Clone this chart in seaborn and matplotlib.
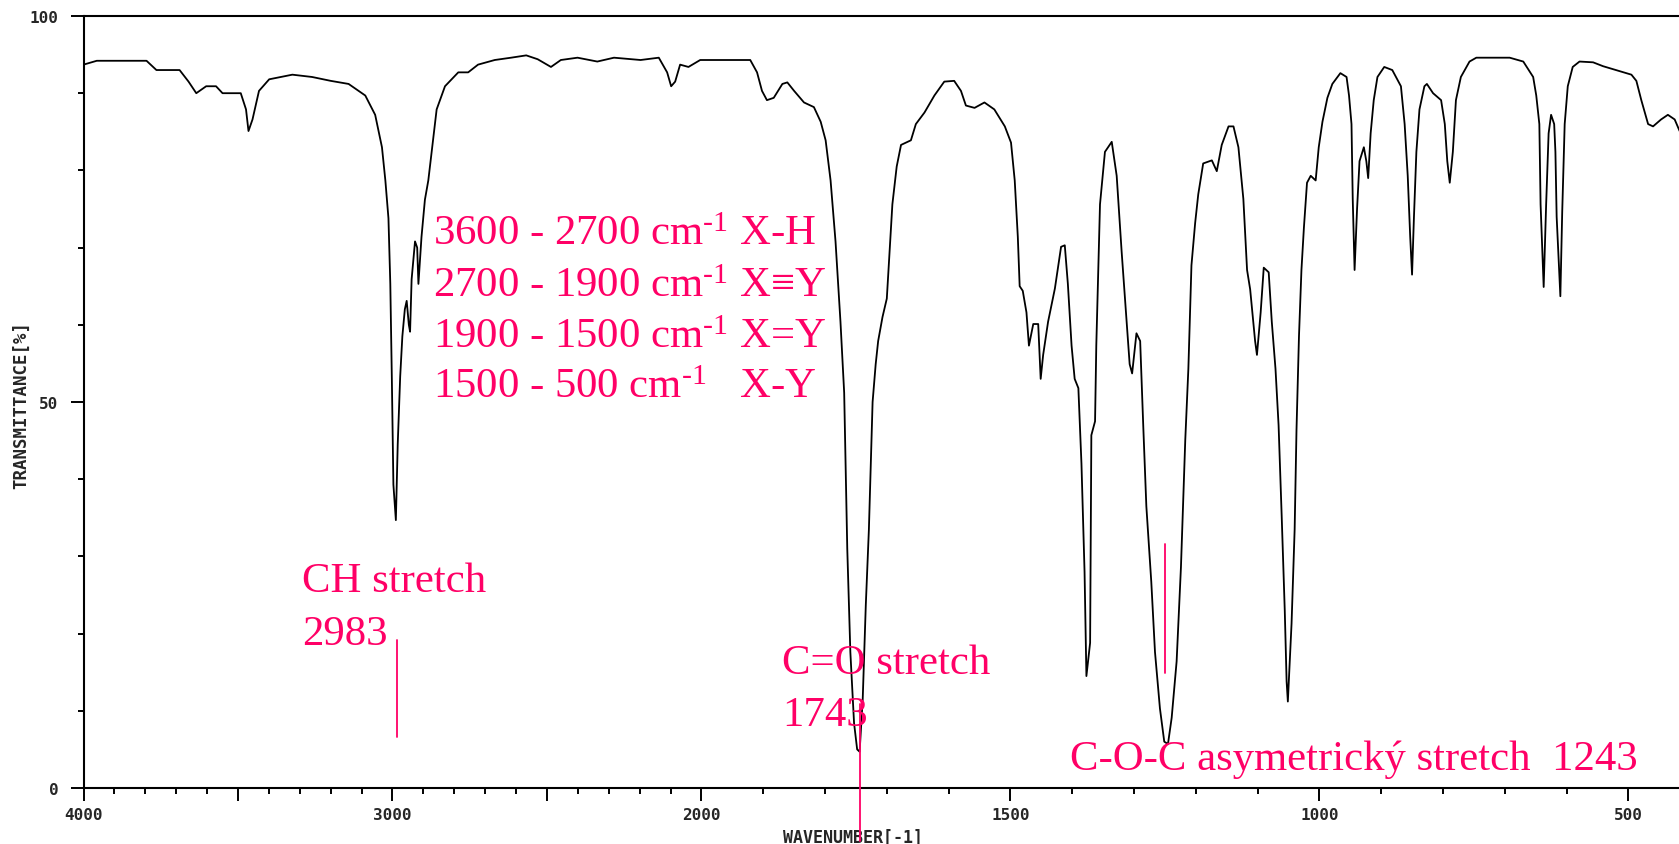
import numpy as np
import matplotlib
matplotlib.use("Agg")
import matplotlib.pyplot as plt
import seaborn as sns

# ---- data (ethyl acetate) ----
wavenumber = [
    4000, 3957, 3900, 3796, 3764, 3689, 3660, 3635, 3603, 3571, 3550, 3491, 3474, 3466, 3453,
    3432, 3399, 3324, 3260, 3200, 3142, 3088, 3056, 3034, 3023, 3013, 3007, 3002, 2997, 2989,
    2983, 2975, 2968, 2960, 2954, 2947, 2943, 2938, 2927, 2920, 2916, 2910, 2906, 2895, 2884,
    2873, 2857, 2830, 2787, 2755, 2723, 2669, 2616, 2567, 2530, 2487, 2455, 2401, 2337, 2283,
    2197, 2138, 2111, 2098, 2085, 2069, 2042, 2004, 1975, 1921, 1910, 1902, 1894, 1883, 1869,
    1861, 1850, 1834, 1818, 1807, 1799, 1791, 1783, 1775, 1769, 1764, 1759, 1753, 1748, 1744,
    1739, 1734, 1729, 1726, 1723, 1718, 1714, 1707, 1700, 1694, 1691, 1684, 1677, 1661, 1653,
    1639, 1623, 1607, 1591, 1580, 1572, 1558, 1542, 1526, 1509, 1499, 1493, 1488, 1485, 1480,
    1474, 1470, 1463, 1455, 1451, 1447, 1439, 1428, 1418, 1412, 1407, 1401, 1396, 1390, 1385,
    1380, 1377, 1371, 1369, 1363, 1361, 1355, 1347, 1336, 1328, 1320, 1312, 1307, 1303, 1296,
    1290, 1285, 1280, 1272, 1266, 1258, 1251, 1245, 1239, 1231, 1224, 1217, 1212, 1207, 1201,
    1196, 1188, 1174, 1166, 1158, 1147, 1139, 1131, 1123, 1117, 1112, 1104, 1101, 1095, 1090,
    1082, 1077, 1071, 1066, 1061, 1056, 1053, 1051, 1045, 1040, 1037, 1033, 1029, 1025, 1020,
    1014, 1006, 1001, 995, 987, 979, 966, 956, 952, 948, 946, 943, 939, 935, 928,
    924, 921, 917, 912, 906, 895, 882, 868, 862, 857, 853, 850, 847, 843, 838,
    830, 826, 816, 803, 797, 793, 789, 784, 779, 771, 757, 746, 692, 670, 654,
    649, 644, 642, 637, 633, 629, 625, 620, 618, 616, 610, 607, 603, 598, 590,
    579, 557, 541, 520, 495, 487, 479, 468, 460, 447, 436, 425, 417,
]
transmittance = [
    93.7, 94.2, 94.2, 94.2, 93.0, 93.0, 91.5, 90.0, 90.9, 90.9, 90.0, 90.0, 87.9, 85.1, 86.6,
    90.3, 91.8, 92.4, 92.1, 91.6, 91.2, 89.7, 87.2, 83.0, 78.7, 73.8, 65.3, 53.0, 39.3, 34.7,
    44.5, 53.3, 58.5, 62.0, 63.1, 60.0, 59.1, 65.9, 70.8, 70.0, 65.3, 69.0, 71.4, 76.2, 78.7,
    82.4, 87.9, 90.9, 92.7, 92.7, 93.7, 94.3, 94.6, 94.9, 94.4, 93.4, 94.3, 94.6, 94.1, 94.6,
    94.3, 94.6, 92.7, 90.9, 91.5, 93.7, 93.4, 94.3, 94.3, 94.3, 92.7, 90.3, 89.1, 89.4, 91.2,
    91.4, 90.3, 88.8, 88.2, 86.3, 83.9, 78.7, 70.8, 60.4, 51.2, 31.0, 17.6, 8.4, 5.0, 4.7,
    11.5, 23.7, 33.5, 42.0, 50.0, 54.9, 57.9, 61.0, 63.4, 71.4, 75.6, 80.5, 83.3, 83.9, 86.0,
    87.5, 89.7, 91.5, 91.6, 90.3, 88.4, 88.1, 88.8, 87.9, 85.7, 83.6, 78.7, 71.4, 65.0, 64.4,
    61.6, 57.3, 60.1, 60.1, 53.0, 56.1, 60.4, 64.7, 70.1, 70.3, 65.3, 57.3, 53.0, 51.8, 42.0,
    28.0, 14.5, 18.8, 45.7, 47.5, 57.3, 75.6, 82.4, 83.7, 79.3, 69.5, 60.4, 54.9, 53.7, 58.9,
    57.9, 46.9, 36.5, 26.7, 17.6, 10.3, 6.0, 5.7, 9.1, 16.4, 28.6, 45.1, 54.3, 67.7, 73.2,
    76.9, 80.9, 81.3, 79.9, 83.3, 85.7, 85.7, 83.0, 76.3, 67.1, 64.6, 57.9, 56.1, 61.6, 67.4,
    66.8, 60.4, 54.3, 47.0, 35.3, 23.0, 13.8, 11.2, 21.3, 33.5, 46.4, 58.5, 67.1, 72.6, 78.4,
    79.3, 78.7, 83.0, 86.3, 89.4, 91.2, 92.6, 92.1, 89.7, 86.0, 76.3, 67.1, 75.0, 81.2, 83.0,
    81.2, 79.0, 84.8, 89.1, 92.1, 93.4, 93.0, 90.9, 86.0, 79.3, 71.4, 66.5, 73.8, 82.4, 87.9,
    90.9, 91.2, 90.0, 89.1, 86.0, 81.2, 78.4, 82.4, 89.1, 92.1, 94.1, 94.6, 94.6, 94.1, 92.1,
    89.7, 86.0, 75.6, 64.9, 75.6, 84.8, 87.2, 86.0, 82.4, 74.0, 63.7, 74.6, 86.0, 90.9, 93.4,
    94.1, 94.0, 93.5, 93.0, 92.4, 91.6, 89.1, 86.0, 85.7, 86.6, 87.2, 86.6, 85.1,
]

x_major_ticks = [4000, 3500, 3000, 2500, 2000, 1500, 1000, 500]
x_major_labels = ["4000", "", "3000", "", "2000", "1500", "1000", "500"]
x_minor_ticks = [w for w in range(4000, 400, -100) if w not in x_major_ticks]
y_major_ticks = [0, 50, 100]
y_major_labels = ["0", "50", "100"]
y_minor_ticks = [10, 20, 30, 40, 60, 70, 80, 90]

x_label = "WAVENUMBER[-1]"
y_label = "TRANSMITTANCE[%]"

range_texts = [
    "3600 - 2700 cm$^{\\text{-1}}$ X-H",
    "2700 - 1900 cm$^{\\text{-1}}$ X\u2261Y",
    "1900 - 1500 cm$^{\\text{-1}}$ X=Y",
    "1500 - 500 cm$^{\\text{-1}}$   X-Y",
]
peak_names = ["CH stretch", "C=O stretch", "C-O-C asymetrický stretch  1243"]
peak_numbers = ["2983", "1743", ""]
marker_wavenumbers = [2984, 1743, 1249]

# ---- style ----
sns.set_theme(style="white")
plt.rcParams["font.family"] = ["DejaVu Sans Mono", "DejaVu Sans"]
plt.rcParams["mathtext.fontset"] = "custom"
plt.rcParams["mathtext.rm"] = "Liberation Serif"
plt.rcParams["mathtext.it"] = "Liberation Serif:italic"
plt.rcParams["mathtext.bf"] = "Liberation Serif:bold"

PINK = "#FF0066"
SERIF = ["Liberation Serif", "DejaVu Serif"]
FS = 30.8

fig = plt.figure(figsize=(16.79, 8.45), dpi=100)
ax = fig.add_axes([83.5 / 1679, 56 / 845, (1679 - 83.5) / 1679, 772 / 845])

sns.lineplot(x=wavenumber, y=transmittance, sort=False, estimator=None,
             color="black", linewidth=1.3, ax=ax, zorder=2)


def fwd(w):
    w = np.asarray(w, dtype=float)
    return np.where(w >= 2000, w / 2.0, w - 1000.0)


def inv(u):
    u = np.asarray(u, dtype=float)
    return np.where(u >= 1000, u * 2.0, u + 1000.0)


ax.set_xscale("function", functions=(fwd, inv))
ax.set_xlim(4000, 418)
ax.set_ylim(0, 100)

ax.set_xticks(x_major_ticks)
ax.set_xticklabels(x_major_labels)
ax.set_xticks(x_minor_ticks, minor=True)
ax.set_yticks(y_major_ticks)
ax.set_yticklabels(y_major_labels)
ax.set_yticks(y_minor_ticks, minor=True)

ax.tick_params(axis="both", which="both", direction="out", bottom=True, left=True,
               top=False, right=False, color="black", width=1.4)
ax.tick_params(axis="both", which="major", length=9.5, labelsize=11.5)
ax.tick_params(axis="both", which="minor", length=4.2)
ax.tick_params(axis="x", which="major", pad=4)
ax.tick_params(axis="y", which="major", pad=8.5)
for lab in ax.get_xticklabels() + ax.get_yticklabels():
    lab.set_fontweight("bold")

for side in ["left", "bottom", "top"]:
    ax.spines[side].set_visible(True)
    ax.spines[side].set_color("black")
    ax.spines[side].set_linewidth(1.5)
ax.spines["right"].set_visible(False)

ax.set_xlabel(x_label, fontsize=12, va="center", fontweight="bold")
ax.xaxis.set_label_coords(0.482, -0.0636)
ax.set_ylabel(y_label, fontsize=12.5, va="center", fontweight="bold")
ax.yaxis.set_label_coords(-0.039, 0.497)

# ---- annotations ----
range_y = [70.5, 63.7, 57.1, 50.6]
for txt, yy in zip(range_texts, range_y):
    ax.text(2868, yy, txt, color=PINK, fontsize=FS, family=SERIF,
            ha="left", va="baseline", zorder=3)

ax.text(3293, 25.5, peak_names[0], color=PINK, fontsize=FS, family=SERIF,
        ha="left", va="baseline", zorder=3)
ax.text(3293, 18.6, peak_numbers[0], color=PINK, fontsize=FS, family=SERIF,
        ha="left", va="baseline", zorder=3)
ax.text(1869, 14.9, peak_names[1], color=PINK, fontsize=FS, family=SERIF,
        ha="left", va="baseline", zorder=3)
ax.text(1869, 8.2, peak_numbers[1], color=PINK, fontsize=FS, family=SERIF,
        ha="left", va="baseline", zorder=3)
ax.text(1403, 2.5, peak_names[2], color=PINK, fontsize=FS, family=SERIF,
        ha="left", va="baseline", zorder=3)

ax.plot([marker_wavenumbers[0]] * 2, [19.2, 6.6], color=PINK, lw=1.3, zorder=4)
ax.plot([marker_wavenumbers[1]] * 2, [10.9, -6.9], color=PINK, lw=1.3, zorder=4,
        clip_on=False)
ax.plot([marker_wavenumbers[2]] * 2, [31.6, 14.9], color=PINK, lw=1.3, zorder=4)

fig.savefig("out.png", dpi=100)
